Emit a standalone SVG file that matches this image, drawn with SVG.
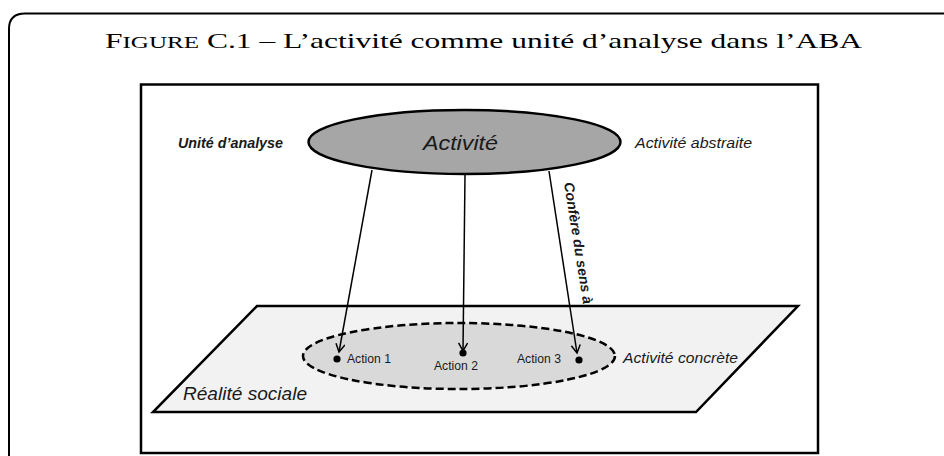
<svg xmlns="http://www.w3.org/2000/svg" width="944" height="456" viewBox="0 0 944 456">
<defs>
<style>
.sans{font-family:"Liberation Sans",Arial,sans-serif;fill:#1a1a1a}
.it{font-style:italic}
.bd{font-weight:bold}
.conn line{stroke:#000;stroke-width:1.5;fill:none}
.dot{fill:#000}
</style>
<marker id="vh" markerWidth="12" markerHeight="12" refX="9" refY="5" orient="auto" markerUnits="userSpaceOnUse">
<path d="M1,0.5 L9,5 L1,9.5" fill="none" stroke="#000" stroke-width="1.5"/>
</marker>
</defs>
<rect width="944" height="456" fill="#fff"/>
<path d="M9 456 V29 Q9 13.5 25 13.5 H944" fill="none" stroke="#000" stroke-width="2"/>
<text x="105" y="48" textLength="757" lengthAdjust="spacingAndGlyphs" font-family="'Liberation Serif','Times New Roman',serif" font-size="22" fill="#000">F<tspan font-size="17.5">IGURE</tspan> C.1 – L’activité comme unité d’analyse dans l’ABA</text>
<rect x="141" y="84.5" width="677" height="368.5" fill="#fff" stroke="#000" stroke-width="2.5"/>
<g id="realite">
<polygon points="257,306 798,306 696,412 153,412" fill="#f2f2f2" stroke="#000" stroke-width="2.5"/>
<text class="sans it" x="183" y="400" font-size="18" textLength="124" lengthAdjust="spacingAndGlyphs">Réalité sociale</text>
</g>
<g id="concrete">
<ellipse cx="459" cy="356" rx="156" ry="33" fill="#d9d9d9" stroke="#000" stroke-width="2.5" stroke-dasharray="8,4"/>
<text class="sans it" x="623" y="363" font-size="15" textLength="115" lengthAdjust="spacingAndGlyphs">Activité concrète</text>
</g>
<g id="activite">
<ellipse cx="464.5" cy="142" rx="156" ry="32" fill="#a6a6a6" stroke="#000" stroke-width="2.5"/>
<text class="sans it" x="423" y="150" font-size="21" textLength="75" lengthAdjust="spacingAndGlyphs">Activité</text>
</g>
<g id="unite">
<text class="sans it bd" x="178" y="148" font-size="14" textLength="105" lengthAdjust="spacingAndGlyphs">Unité d’analyse</text>
</g>
<g id="abstraite">
<text class="sans it" x="635" y="148" font-size="15" textLength="117" lengthAdjust="spacingAndGlyphs">Activité abstraite</text>
</g>
<g id="action1">
<circle class="dot" cx="337" cy="359" r="3.6"/>
<text class="sans" x="347" y="363" font-size="12" textLength="44" lengthAdjust="spacingAndGlyphs">Action 1</text>
</g>
<g id="action2">
<circle class="dot" cx="463" cy="353" r="3.6"/>
<text class="sans" x="434" y="370" font-size="12" textLength="44" lengthAdjust="spacingAndGlyphs">Action 2</text>
</g>
<g id="action3">
<circle class="dot" cx="579" cy="360" r="3.6"/>
<text class="sans" x="517" y="363" font-size="12" textLength="44" lengthAdjust="spacingAndGlyphs">Action 3</text>
</g>
<g id="connectors" class="conn">
<line x1="372" y1="170" x2="339" y2="352" marker-end="url(#vh)"/>
<line x1="465" y1="175" x2="463" y2="351" marker-end="url(#vh)"/>
<line x1="549" y1="171" x2="577" y2="353" marker-end="url(#vh)"/>
<text class="sans it bd" transform="translate(564,183) rotate(81)" font-size="14" textLength="123" lengthAdjust="spacingAndGlyphs">Confère du sens à</text>
</g>
</svg>
